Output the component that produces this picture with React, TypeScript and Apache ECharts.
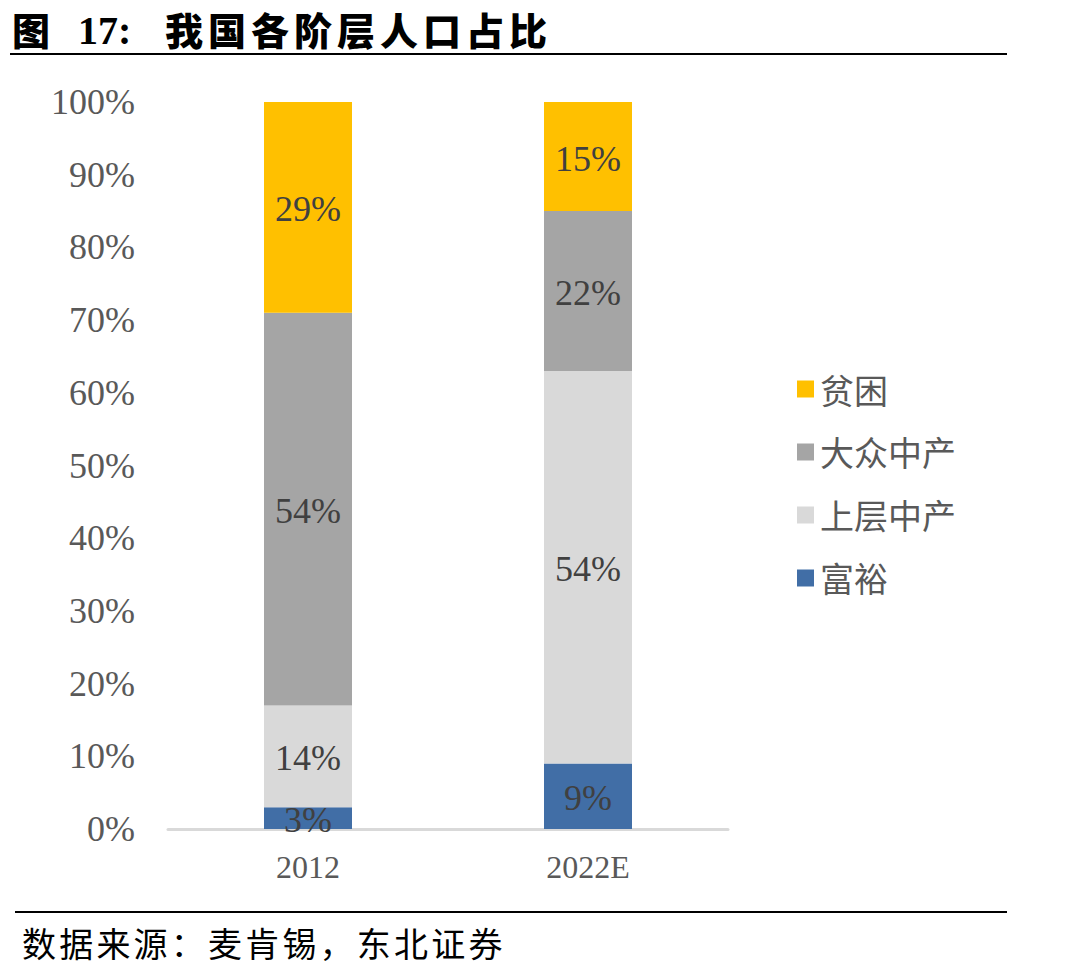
import React, { useEffect, useRef } from "react";
import * as echarts from "echarts";

// Population share by social stratum (percent)
const categories = ["2012", "2022E"];
const affluentValues = [3, 9]; // 富裕
const upperMiddleValues = [14, 54]; // 上层中产
const massMiddleValues = [54, 22]; // 大众中产
const poorValues = [29, 15]; // 贫困

const legendOrder = ["贫困", "大众中产", "上层中产", "富裕"];

const titlePrefix = "图";
const titleNumber = "17:";
const titleText = "我国各阶层人口占比";
const sourceText = "数据来源：麦肯锡，东北证券";

const SERIF = "'Liberation Serif', 'Times New Roman', 'Noto Sans CJK SC', serif";
const CJK = "'Noto Sans CJK SC', 'Liberation Serif', serif";

export default function App() {
  const ref = useRef<HTMLDivElement>(null);

  useEffect(() => {
    document.body.style.margin = "0";
    if (!ref.current) return;
    const chart = echarts.init(ref.current, null, { renderer: "svg" });

    const labelStyle = {
      show: true,
      position: "inside" as const,
      formatter: "{c}%",
      color: "#404040",
      fontSize: 36,
      fontFamily: SERIF,
      offset: [0, 2],
    };

    const mkSeries = (name: string, data: number[], color: string) => ({
      name,
      type: "bar",
      stack: "total",
      data,
      barWidth: 88,
      itemStyle: { color },
      label: labelStyle,
    });

    const titleChars = titleText.split("").map((ch, i) => ({
      type: "text",
      x: 165 + i * 43,
      y: 28,
      style: {
        text: ch,
        fill: "#000",
        font: `900 38px ${CJK}`,
        textVerticalAlign: "middle",
      },
    }));

    const sourceChars = sourceText.split("").map((ch, i) => ({
      type: "text",
      x: 22 + i * 37.2,
      y: 942,
      style: {
        text: ch,
        fill: "#000",
        font: `normal 34px ${CJK}`,
        textVerticalAlign: "middle",
      },
    }));

    chart.setOption({
      animation: false,
      backgroundColor: "#fff",
      grid: { left: 168, right: 362, top: 102, bottom: 144, containLabel: false },
      xAxis: {
        type: "category",
        data: categories,
        axisLine: { show: true, lineStyle: { color: "#d9d9d9", width: 3 } },
        axisTick: { show: false },
        axisLabel: {
          color: "#595959",
          fontSize: 32,
          fontFamily: SERIF,
          margin: 22,
        },
      },
      yAxis: {
        type: "value",
        min: 0,
        max: 100,
        interval: 10,
        splitLine: { show: false },
        axisLine: { show: false },
        axisTick: { show: false },
        axisLabel: {
          color: "#595959",
          fontSize: 36,
          fontFamily: SERIF,
          margin: 33,
          formatter: "{value}%",
        },
      },
      legend: {
        orient: "vertical",
        left: 792,
        top: 367,
        data: legendOrder,
        icon: "rect",
        itemWidth: 17,
        itemHeight: 17,
        itemGap: 29,
        textStyle: {
          color: "#595959",
          fontSize: 34,
          fontFamily: CJK,
          padding: [0, 0, 0, 1],
        },
      },
      series: [
        mkSeries("富裕", affluentValues, "#416EA6"),
        mkSeries("上层中产", upperMiddleValues, "#D9D9D9"),
        mkSeries("大众中产", massMiddleValues, "#A5A5A5"),
        mkSeries("贫困", poorValues, "#FFC000"),
      ],
      graphic: [
        {
          type: "text",
          x: 12,
          y: 28,
          style: {
            text: titlePrefix,
            fill: "#000",
            font: `900 38px ${CJK}`,
            textVerticalAlign: "middle",
          },
        },
        {
          type: "text",
          x: 78,
          y: 30,
          style: {
            text: titleNumber,
            fill: "#000",
            font: `bold 40px ${SERIF}`,
            textVerticalAlign: "middle",
          },
        },
        ...titleChars,
        {
          type: "line",
          shape: { x1: 10, y1: 54, x2: 1007, y2: 54 },
          style: { stroke: "#000", lineWidth: 2 },
        },
        {
          type: "line",
          shape: { x1: 15, y1: 912, x2: 1007, y2: 912 },
          style: { stroke: "#000", lineWidth: 2 },
        },
        ...sourceChars,
      ],
    });

    return () => chart.dispose();
  }, []);

  return <div ref={ref} style={{ width: 1090, height: 973 }} />;
}
